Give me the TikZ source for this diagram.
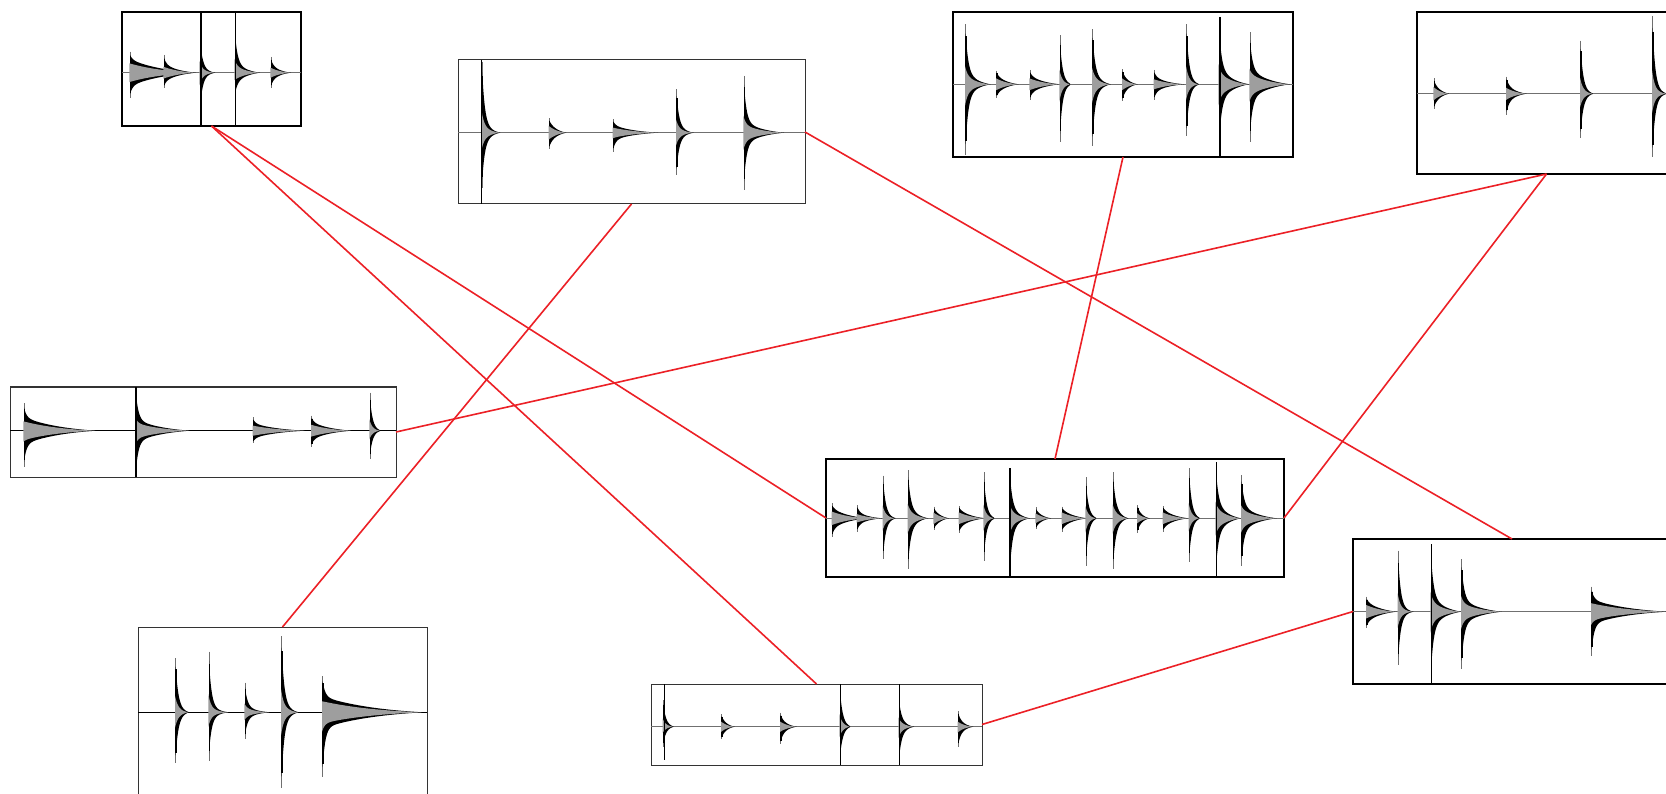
\documentclass[tikz,border=0pt]{standalone}
\begin{document}
\definecolor{linkred}{RGB}{236,32,38}
\definecolor{bodygray}{RGB}{158,158,158}
\definecolor{axisgray}{RGB}{112,112,112}
\tikzset{
  wavebox/.style={draw=black, line width=2pt, inner sep=0pt, outer sep=0pt, anchor=north west},
  thinbox/.style={draw=black!80, line width=1pt, inner sep=0pt, outer sep=0pt, anchor=north west},
  axisg/.style={draw=axisgray, line width=1.3pt},
  axisk/.style={draw=black, line width=1pt},
  spkblack/.style={fill=black},
  spkgray/.style={fill=bodygray},
  spkline/.style={draw=bodygray!70!black, line width=1pt},
  spkcore/.style={draw=black, line width=1.5pt},
  marker/.style={draw=black, line width=1.2pt},
  link/.style={draw=linkred, line width=1.6pt}
}
% one decaying strike: x, axis y, peak up, peak down, body amplitude, tail length
\newcommand\spk[6]{%
  \draw[spkline] (#1,{#2-#3}) -- (#1,{#2+#4});
  \fill[spkblack] plot[domain=0:1,samples=40]
    ({#1+#6*\x*\x},{#2-(max(0.85*#3-1.2*#5,0)*exp(-#6*\x*\x/2.6)+1.2*#5*(1-\x*\x)*exp(-\x*\x))})
    -- plot[domain=1:0,samples=40]
    ({#1+#6*\x*\x},{#2+(max(0.85*#4-1.2*#5,0)*exp(-#6*\x*\x/2.6)+1.2*#5*(1-\x*\x)*exp(-\x*\x))}) -- cycle;
  \draw[spkcore] ({#1+0.3},{#2-0.8*#3}) -- ({#1+0.3},{#2+0.8*#4});
  \fill[spkgray] plot[domain=0:1,samples=40]
    ({#1-0.6+#6*\x*\x},{#2-(max(0.3*#3-0.85*#5,0)*exp(-#6*\x*\x/2.6)+0.85*#5*(1-\x*\x)*exp(-\x*\x))})
    -- plot[domain=1:0,samples=40]
    ({#1-0.6+#6*\x*\x},{#2+(max(0.3*#4-0.85*#5,0)*exp(-#6*\x*\x/2.6)+0.85*#5*(1-\x*\x)*exp(-\x*\x))}) -- cycle;
}
\begin{tikzpicture}[x=1pt,y=-1pt]
\clip (0,0) rectangle (1666,794);
\fill[white] (0,0) rectangle (1666,794);

% ---------- frames ----------
\node[wavebox, minimum width=179pt, minimum height=114pt] (b1) at (122,12) {};
\node[thinbox, minimum width=347pt, minimum height=144pt] (b2) at (458,60) {};
\node[wavebox, minimum width=340pt, minimum height=145pt] (b3) at (953,12) {};
\node[wavebox, minimum width=259pt, minimum height=162pt] (b4) at (1417,12) {};
\node[thinbox, minimum width=386pt, minimum height=90pt] (b5) at (10,387) {};
\node[wavebox, minimum width=458pt, minimum height=118pt] (b6) at (826,459) {};
\node[wavebox, minimum width=318pt, minimum height=145pt] (b7) at (1353,539) {};
\node[thinbox, minimum width=289pt, minimum height=170pt] (b8) at (138,627) {};
\node[thinbox, minimum width=331pt, minimum height=81pt] (b9) at (651,684) {};

% ---------- waveform 1 ----------
\draw[axisg] (122,72.7) -- (301,72.7);
\spk{130}{72.7}{21}{25.6}{11}{65}
\spk{164}{72.7}{17.7}{15.6}{7}{32}
\spk{200}{72.7}{39}{42}{5}{15}
\spk{235}{72.7}{46}{25}{8}{25}
\spk{271}{72.7}{15.7}{15.6}{6}{20}
\draw[marker] (201,12) -- (201,126);
\draw[marker] (235.3,12) -- (235.3,126);

% ---------- waveform 2 ----------
\draw[axisg] (458,132.7) -- (805,132.7);
\spk{482.3}{132.7}{71}{55}{8}{18}
\spk{549.3}{132.7}{14.4}{16.6}{8}{17}
\spk{613.3}{132.7}{13.4}{19}{6}{45}
\spk{676.7}{132.7}{43.4}{42.3}{6}{17}
\spk{744}{132.7}{56.7}{57.3}{9}{40}
\draw[marker] (481.7,60) -- (481.7,204);

% ---------- waveform 3 ----------
\draw[axisg] (953,84.3) -- (1293,84.3);
\spk{965.7}{84.3}{60}{70.7}{10}{25}
\spk{996.7}{84.3}{13.6}{14}{7}{22}
\spk{1030}{84.3}{14.3}{16}{7}{30}
\spk{1060}{84.3}{49}{58}{5}{10}
\spk{1092.7}{84.3}{55}{61.7}{9}{18}
\spk{1122.7}{84.3}{15}{17}{7}{15}
\spk{1154.3}{84.3}{14.3}{15.7}{6}{30}
\spk{1186.7}{84.3}{60}{52}{6}{12}
\spk{1219}{84.3}{67.6}{70}{13}{30}
\spk{1250}{84.3}{52}{58}{12}{40}
\draw[marker] (1220,17) -- (1220,157);

% ---------- waveform 4 ----------
\draw[axisg] (1417,93.7) -- (1676,93.7);
\spk{1434}{93.7}{15.3}{15.7}{8}{15}
\spk{1506.7}{93.7}{17}{21}{7}{20}
\spk{1580.7}{93.7}{53}{44.7}{6}{12}
\spk{1652.7}{93.7}{77.7}{63.7}{6}{14}

% ---------- waveform 5 ----------
\draw[axisk] (10,430.7) -- (396,430.7);
\spk{24}{430.7}{27.3}{36.7}{11}{72}
\spk{136}{430.7}{43.3}{46}{9}{54}
\spk{253.3}{430.7}{13.3}{12.7}{6}{52}
\spk{311.7}{430.7}{15}{16}{7}{40}
\spk{370}{430.7}{38}{28.6}{4}{10}
\draw[marker] (136,387) -- (136,477);

% ---------- waveform 6 ----------
\draw[axisg] (826,518.3) -- (1284,518.3);
\spk{832.3}{518.3}{15}{19}{8}{35}
\spk{857.3}{518.3}{13.3}{13.4}{5}{25}
\spk{883.3}{518.3}{42.6}{41}{5}{12}
\spk{908.3}{518.3}{48.3}{50.7}{9}{20}
\spk{934}{518.3}{11.6}{11.7}{7}{15}
\spk{959.3}{518.3}{12.3}{15}{7}{26}
\spk{984}{518.3}{46}{42.7}{5}{10}
\spk{1010}{518.3}{50}{58}{9}{20}
\spk{1036}{518.3}{11}{11}{6}{15}
\spk{1062.3}{518.3}{11.6}{13.4}{7}{25}
\spk{1086}{518.3}{41}{47.7}{5}{10}
\spk{1113.3}{518.3}{46}{50.7}{9}{15}
\spk{1137.7}{518.3}{13.3}{14.4}{6}{12}
\spk{1163.3}{518.3}{12.3}{13.4}{7}{25}
\spk{1189.3}{518.3}{50}{43.4}{5}{10}
\spk{1216}{518.3}{55.6}{58}{12}{25}
\spk{1241.7}{518.3}{43.3}{47.7}{10}{35}
\draw[marker] (1010,468) -- (1010,577);
\draw[marker] (1216.7,462) -- (1216.7,577);

% ---------- waveform 7 ----------
\draw[axisg] (1353,611.7) -- (1671,611.7);
\spk{1366.7}{611.7}{15}{16.6}{8}{30}
\spk{1398.3}{611.7}{61}{53.3}{5}{15}
\spk{1431}{611.7}{66.7}{70}{12}{30}
\spk{1461.7}{611.7}{52.4}{57.6}{10}{40}
\spk{1591.7}{611.7}{25}{44.3}{10}{75}
\draw[marker] (1431.7,544) -- (1431.7,684);

% ---------- waveform 8 ----------
\draw[axisk] (138,712.3) -- (427,712.3);
\spk{175.7}{712.3}{54}{51}{7}{13}
\spk{209}{712.3}{60.6}{48.4}{5}{20}
\spk{245}{712.3}{29.6}{27}{5}{25}
\spk{281.7}{712.3}{76.3}{76}{8}{17}
\spk{322.7}{712.3}{36.3}{64.4}{13}{100}

% ---------- waveform 9 ----------
\draw[axisg] (651,726.7) -- (982,726.7);
\spk{663.3}{726.7}{26.7}{20}{4}{10}
\spk{721.7}{726.7}{12.4}{12.6}{6}{13}
\spk{780.7}{726.7}{14}{17.3}{6}{16}
\spk{840}{726.7}{42}{35}{6}{10}
\spk{899}{726.7}{31}{38}{6}{15}
\spk{958.3}{726.7}{15.7}{20}{6}{15}
\draw[marker] (664.3,684) -- (664.3,760);
\draw[marker] (840.3,684) -- (840.3,765);
\draw[marker] (899.7,684) -- (899.7,765);

% ---------- links ----------
\draw[link] (b1.south) -- (b6.west);
\draw[link] (b1.south) -- (b9.north);
\draw[link] (b2.south) -- (b8.north);
\draw[link] (b2.east) -- (b7.north);
\draw[link] (b3.south) -- (b6.north);
\draw[link] (b4.south) -- (b5.east);
\draw[link] (b4.south) -- (b6.east);
\draw[link] (b9.east) -- (b7.west);
\end{tikzpicture}
\end{document}
